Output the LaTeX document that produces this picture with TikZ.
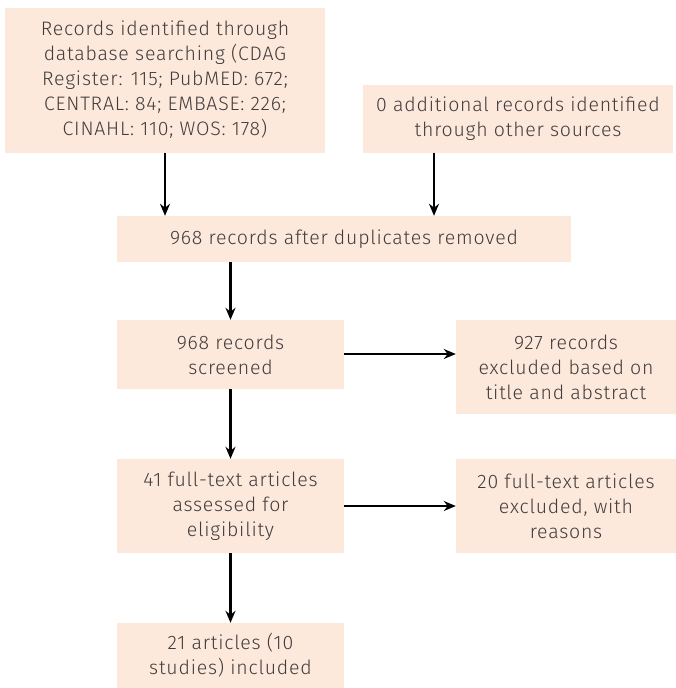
\documentclass[tikz,border=0pt]{standalone}
\usepackage{fontspec}
\setmainfont{Fira Sans}[UprightFont=* Light, LetterSpace=4]
\usetikzlibrary{arrows.meta}
\definecolor{boxfill}{RGB}{253,232,220}
\definecolor{txt}{RGB}{64,60,60}
\tikzset{
  box/.style={fill=boxfill, draw=none, inner sep=0pt, align=center, text=txt,
    font=\fontsize{19.5}{25}\selectfont},
  arr/.style={-{Stealth[length=12pt,width=10pt]}, line width=2.2pt, black}
}
\begin{document}
\begin{tikzpicture}[x=1pt,y=-1pt]
\useasboundingbox (0,0) rectangle (676,688);
\node[box, minimum width=320pt, minimum height=145pt] (A) at (165,80)
  {Records identified through\\database searching (CDAG\\Register: 115; PubMED: 672;\\CENTRAL: 84; EMBASE: 226;\\CINAHL: 110; WOS: 178)};
\node[box, minimum width=310pt, minimum height=68pt] (B) at (518,118.5)
  {0 additional records identified\\through other sources};
\node[box, minimum width=454pt, minimum height=46pt] (C) at (344,239)
  {968 records after duplicates removed};
\node[box, minimum width=227pt, minimum height=69pt] (D) at (230.5,354.5)
  {968 records\\screened};
\node[box, minimum width=220pt, minimum height=94pt] (E) at (566,367)
  {927 records\\excluded based on\\title and abstract};
\node[box, minimum width=227pt, minimum height=94pt] (F) at (230.5,506)
  {41 full-text articles\\assessed for\\eligibility};
\node[box, minimum width=220pt, minimum height=94pt] (G) at (566,506)
  {20 full-text articles\\excluded, with\\reasons};
\node[box, minimum width=227pt, minimum height=65pt] (H) at (230.5,655.5)
  {21 articles (10\\studies) included};
\draw[arr] (A.south) -- (A.south |- C.north);
\draw[arr] ([xshift=-84pt]B.south) -- ([xshift=-84pt]B.south |- C.north);
\draw[arr] (C.south -| D.north) -- (D.north);
\draw[arr] (D.east |- 0,354) -- (E.west |- 0,354);
\draw[arr] (F.east) -- (G.west);
\draw[arr] (D.south) -- (F.north);
\draw[arr] (F.south) -- (H.north);
\end{tikzpicture}
\end{document}
